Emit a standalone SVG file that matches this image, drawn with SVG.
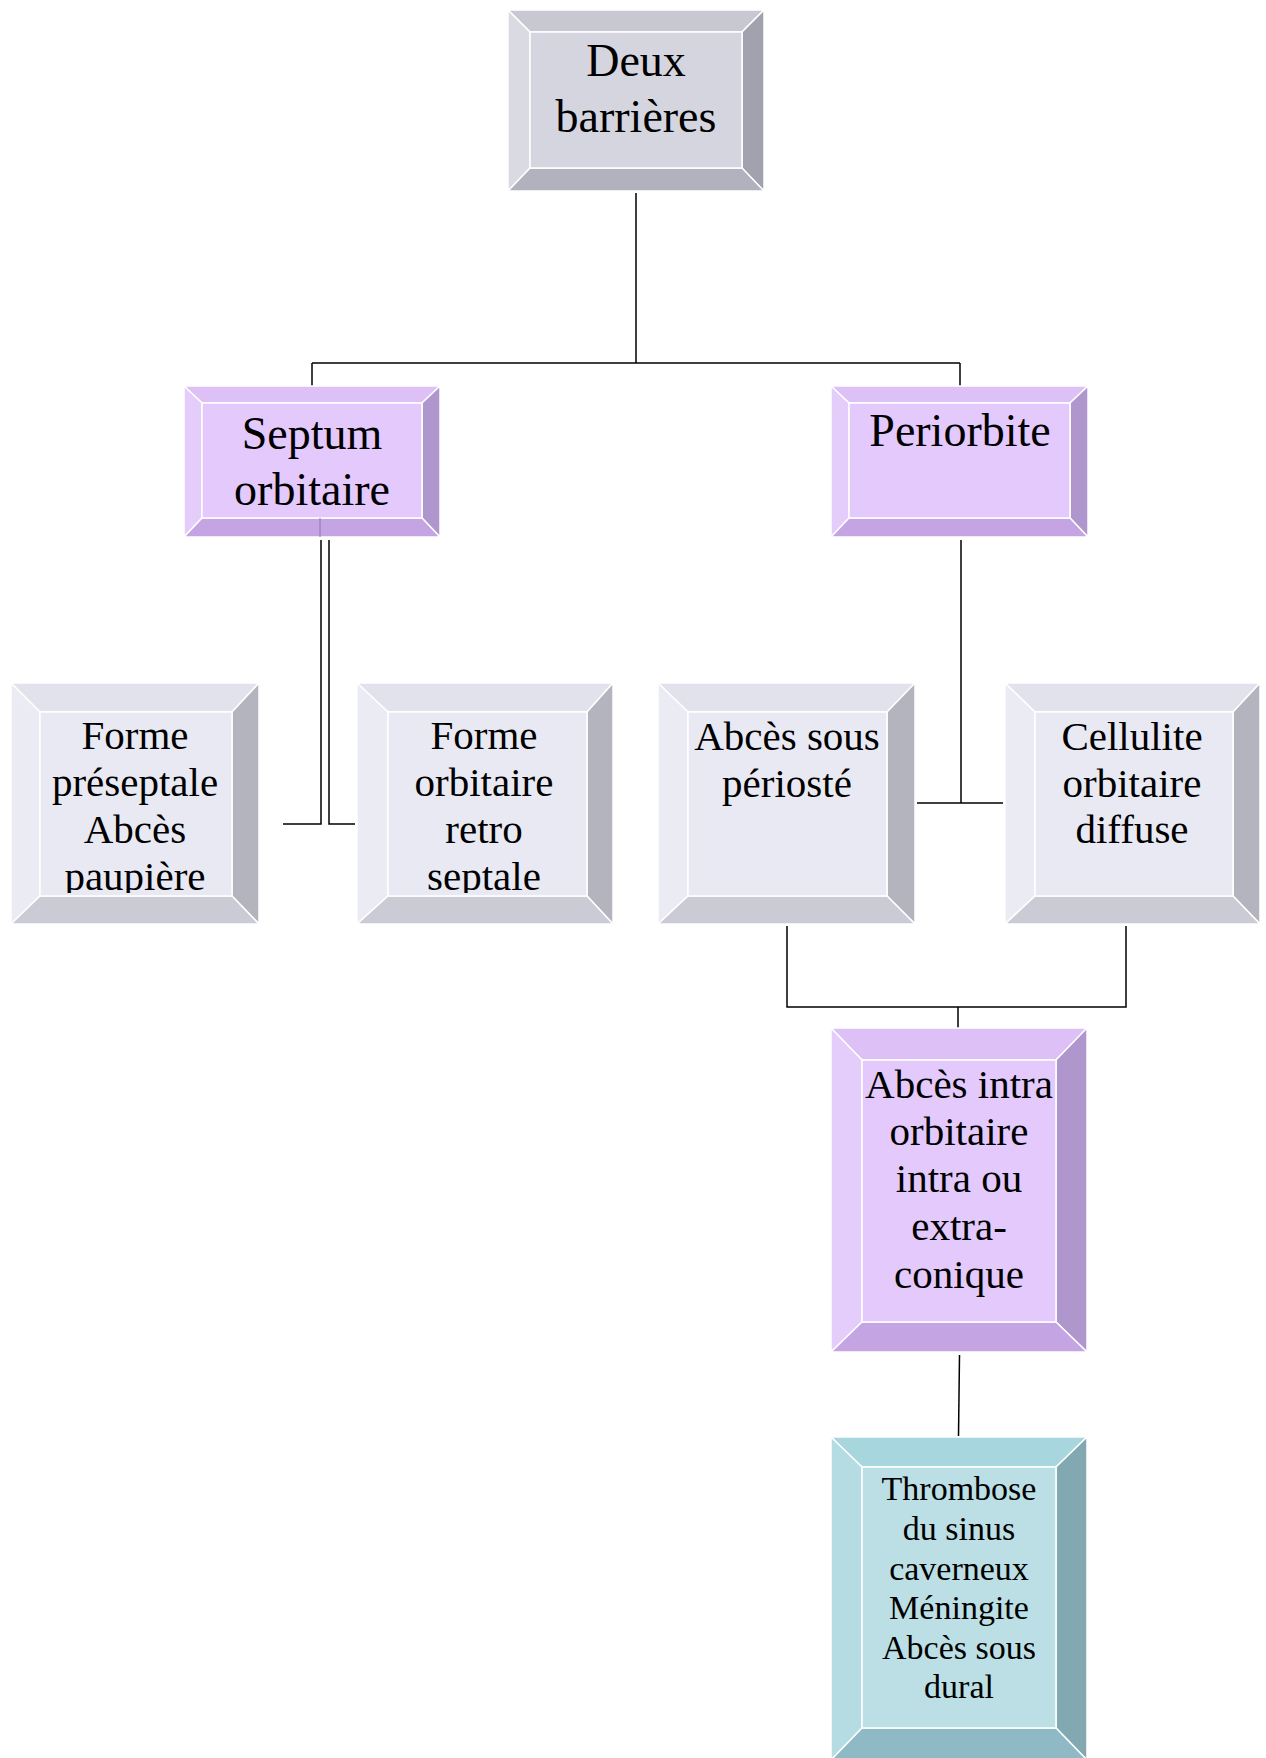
<svg xmlns="http://www.w3.org/2000/svg" width="1266" height="1758" viewBox="0 0 1266 1758">
<style>
.bv polygon, .bv rect { stroke: #ffffff; stroke-width: 1.5; stroke-linejoin: miter; }
.a .t { fill: #c8c8d3; } .a .l { fill: #dadae2; } .a .r { fill: #a2a2ae; } .a .b { fill: #b2b2bf; } .a .f { fill: #d5d5df; }
.g .t { fill: #e2e2ec; } .g .l { fill: #ebebf3; } .g .r { fill: #b4b4be; } .g .b { fill: #cbcbd6; } .g .f { fill: #e9e9f3; }
.p .t { fill: #dcc0f6; } .p .l { fill: #e5cdfb; } .p .r { fill: #af96cc; } .p .b { fill: #c5a4e3; } .p .f { fill: #e3c9fc; }
.c .t { fill: #a8d6de; } .c .l { fill: #b5dce3; } .c .r { fill: #82a9b2; } .c .b { fill: #8fbac5; } .c .f { fill: #bbdfe5; }
text { font-family: "Liberation Serif", "Times New Roman", serif; fill: #000000; text-anchor: middle; }
.big { font-size: 46px; }
.mid { font-size: 41px; }
.sm { font-size: 34px; }
.conn path { fill: none; stroke: #000000; stroke-width: 1.5; }
</style>
<defs>
<clipPath id="c4"><rect x="40" y="712" width="192" height="181"/></clipPath>
<clipPath id="c5"><rect x="388" y="712" width="199" height="181"/></clipPath>
</defs>

<g class="conn" id="connectors">
<path d="M636 193 V363 M312 363 H960 M312 363 V386 M960 363 V386"/>
<path d="M321 540 V824 H283"/>
<path d="M329 540 V824 H355"/>
<path d="M961 540 V803 M917 803 H1003"/>
<path d="M787 926 V1007 H1126 V926 M958 1007 V1028"/>
<path d="M959.5 1355 L958.5 1436"/>
</g>

<g id="n1" class="bv a">
<polygon class="t" points="508,10 764,10 742,32 530,32"/>
<polygon class="l" points="508,10 530,32 530,168 508,191"/>
<polygon class="r" points="764,10 764,191 742,168 742,32"/>
<polygon class="b" points="508,191 530,168 742,168 764,191"/>
<rect class="f" x="530" y="32" width="212" height="136"/>
<text class="big" x="636" y="76">Deux</text>
<text class="big" x="636" y="132">barrières</text>
</g>

<g id="n2" class="bv p">
<polygon class="t" points="184,386 440,386 422,403 202,403"/>
<polygon class="l" points="184,386 202,403 202,518 184,537"/>
<polygon class="r" points="440,386 440,537 422,518 422,403"/>
<polygon class="b" points="184,537 202,518 422,518 440,537"/>
<rect class="f" x="202" y="403" width="220" height="115"/>
<line x1="320" y1="518" x2="320" y2="537" stroke="#8e74a8" stroke-width="1"/>
<text class="big" x="312" y="449">Septum</text>
<text class="big" x="312" y="505">orbitaire</text>
</g>

<g id="n3" class="bv p">
<polygon class="t" points="831,386 1088,386 1070,403 849,403"/>
<polygon class="l" points="831,386 849,403 849,518 831,537"/>
<polygon class="r" points="1088,386 1088,537 1070,518 1070,403"/>
<polygon class="b" points="831,537 849,518 1070,518 1088,537"/>
<rect class="f" x="849" y="403" width="221" height="115"/>
<text class="big" x="960" y="446">Periorbite</text>
</g>

<g id="n4" class="bv g">
<polygon class="t" points="11,683 259,683 232,712 40,712"/>
<polygon class="l" points="11,683 40,712 40,896 11,924"/>
<polygon class="r" points="259,683 259,924 232,896 232,712"/>
<polygon class="b" points="11,924 40,896 232,896 259,924"/>
<rect class="f" x="40" y="712" width="192" height="184"/>
<g clip-path="url(#c4)">
<text class="mid" x="135" y="749">Forme</text>
<text class="mid" x="135" y="796">préseptale</text>
<text class="mid" x="135" y="843">Abcès</text>
<text class="mid" x="135" y="890">paupière</text>
</g>
</g>

<g id="n5" class="bv g">
<polygon class="t" points="357,683 613,683 587,712 388,712"/>
<polygon class="l" points="357,683 388,712 388,896 357,924"/>
<polygon class="r" points="613,683 613,924 587,896 587,712"/>
<polygon class="b" points="357,924 388,896 587,896 613,924"/>
<rect class="f" x="388" y="712" width="199" height="184"/>
<g clip-path="url(#c5)">
<text class="mid" x="484" y="749">Forme</text>
<text class="mid" x="484" y="796">orbitaire</text>
<text class="mid" x="484" y="843">retro</text>
<text class="mid" x="484" y="890">septale</text>
</g>
</g>

<g id="n6" class="bv g">
<polygon class="t" points="658,683 915,683 887,712 688,712"/>
<polygon class="l" points="658,683 688,712 688,896 658,924"/>
<polygon class="r" points="915,683 915,924 887,896 887,712"/>
<polygon class="b" points="658,924 688,896 887,896 915,924"/>
<rect class="f" x="688" y="712" width="199" height="184"/>
<text class="mid" x="787" y="750">Abcès sous</text>
<text class="mid" x="787" y="797">périosté</text>
</g>

<g id="n7" class="bv g">
<polygon class="t" points="1005,683 1260,683 1233,712 1035,712"/>
<polygon class="l" points="1005,683 1035,712 1035,896 1005,924"/>
<polygon class="r" points="1260,683 1260,924 1233,896 1233,712"/>
<polygon class="b" points="1005,924 1035,896 1233,896 1260,924"/>
<rect class="f" x="1035" y="712" width="198" height="184"/>
<text class="mid" x="1132" y="750">Cellulite</text>
<text class="mid" x="1132" y="797">orbitaire</text>
<text class="mid" x="1132" y="843">diffuse</text>
</g>

<g id="n8" class="bv p">
<polygon class="t" points="831,1028 1087,1028 1056,1060 862,1060"/>
<polygon class="l" points="831,1028 862,1060 862,1322 831,1352"/>
<polygon class="r" points="1087,1028 1087,1352 1056,1322 1056,1060"/>
<polygon class="b" points="831,1352 862,1322 1056,1322 1087,1352"/>
<rect class="f" x="862" y="1060" width="194" height="262"/>
<text class="mid" x="959" y="1098">Abcès intra</text>
<text class="mid" x="959" y="1145">orbitaire</text>
<text class="mid" x="959" y="1192">intra ou</text>
<text class="mid" x="959" y="1240">extra-</text>
<text class="mid" x="959" y="1288">conique</text>
</g>

<g id="n9" class="bv c">
<polygon class="t" points="831,1437 1087,1437 1056,1467 862,1467"/>
<polygon class="l" points="831,1437 862,1467 862,1728 831,1760"/>
<polygon class="r" points="1087,1437 1087,1760 1056,1728 1056,1467"/>
<polygon class="b" points="831,1760 862,1728 1056,1728 1087,1760"/>
<rect class="f" x="862" y="1467" width="194" height="261"/>
<text class="sm" x="959" y="1500">Thrombose</text>
<text class="sm" x="959" y="1540">du sinus</text>
<text class="sm" x="959" y="1580">caverneux</text>
<text class="sm" x="959" y="1619">Méningite</text>
<text class="sm" x="959" y="1659">Abcès sous</text>
<text class="sm" x="959" y="1698">dural</text>
</g>
</svg>
